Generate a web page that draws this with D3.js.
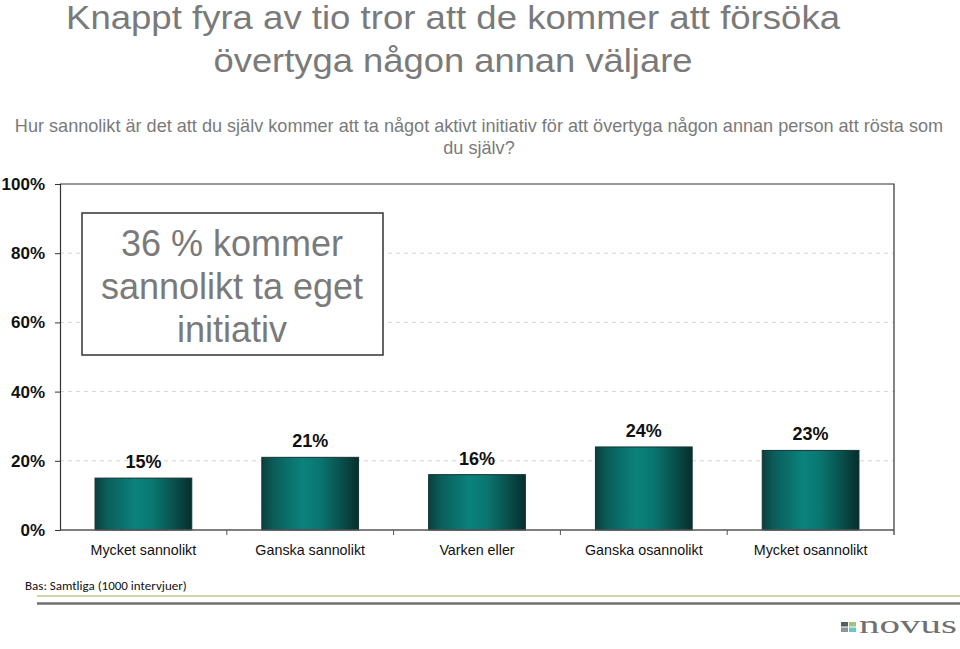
<!DOCTYPE html>
<html><head><meta charset="utf-8">
<script src="https://cdn.jsdelivr.net/npm/d3@7"></script>
<style>body{margin:0;background:#fff;}svg{display:block;font-family:"Liberation Sans",Arial,sans-serif;}</style>
</head><body>
<svg id="c" width="960" height="649"></svg>
<script>
const categories = ["Mycket sannolikt","Ganska sannolikt","Varken eller","Ganska osannolikt","Mycket osannolikt"];
const values = [15, 21, 16, 24, 23];
const yTicks = [0, 20, 40, 60, 80, 100];
const titleLines = ["Knappt fyra av tio tror att de kommer att försöka","övertyga någon annan väljare"];
const subtitleLines = ["Hur sannolikt är det att du själv kommer att ta något aktivt initiativ för att övertyga någon annan person att rösta som","du själv?"];
const boxLines = ["36 % kommer","sannolikt ta eget","initiativ"];
const baseNote = "Bas: Samtliga (1000 intervjuer)";

const svg = d3.select("#c");
const m = {l:60, r:894, t:184, b:530};
const x = d3.scaleBand().domain(categories).range([m.l, m.r]).paddingInner(0.42).paddingOuter(0.21);
const y = d3.scaleLinear().domain([0,100]).range([m.b, m.t]);

const defs = svg.append("defs");
const g = defs.append("linearGradient").attr("id","barg").attr("x1","0").attr("x2","1").attr("y1","0").attr("y2","0");
[[0,"#0a3f3d"],[0.12,"#0a5d5a"],[0.42,"#0b827c"],[0.6,"#0a7670"],[0.85,"#084a47"],[1,"#062e2c"]].forEach(s=>g.append("stop").attr("offset",s[0]).attr("stop-color",s[1]));

// titles
const titleWidths = [774, 479];
svg.append("g").selectAll("text").data(titleLines).join("text")
  .attr("x",453).attr("y",(d,i)=>29+i*43).attr("text-anchor","middle")
  .attr("font-size",33).attr("fill","#7a7a7a")
  .attr("textLength",(d,i)=>titleWidths[i]).attr("lengthAdjust","spacingAndGlyphs").text(d=>d);
svg.append("g").selectAll("text").data(subtitleLines).join("text")
  .attr("x",479).attr("y",(d,i)=>132+i*22).attr("text-anchor","middle")
  .attr("font-size",18.1).attr("fill","#7a7a7a").text(d=>d);

// gridlines
svg.append("g").selectAll("line").data(yTicks.filter(t=>t>0&&t<100)).join("line")
  .attr("x1",m.l).attr("x2",m.r).attr("y1",d=>y(d)).attr("y2",d=>y(d))
  .attr("stroke","#d4d4d4").attr("stroke-dasharray","4,4").attr("stroke-width",1);

// frame top and right
svg.append("path").attr("d",`M${m.l},${m.t}H${m.r}V${m.b+5}`).attr("fill","none").attr("stroke","#333").attr("stroke-width",1.2);

// y axis
const ya = svg.append("g").attr("transform",`translate(${m.l},0)`)
  .call(d3.axisLeft(y).tickValues(yTicks).tickFormat(d=>d+"%").tickSize(5).tickPadding(10));
ya.select(".domain").attr("stroke","#333").attr("stroke-width",1.2);
ya.selectAll(".tick line").attr("stroke","#333");
ya.selectAll(".tick text").attr("font-size",17).attr("font-weight","bold").attr("fill","#111")
  .attr("font-family","\"Liberation Sans\",Arial,sans-serif");

// bars
svg.append("g").selectAll("rect").data(values).join("rect")
  .attr("x",(d,i)=>x(categories[i])).attr("width",x.bandwidth())
  .attr("y",d=>y(d)).attr("height",d=>y(0)-y(d))
  .attr("fill","url(#barg)").attr("stroke","#123534").attr("stroke-width",1);

// x axis
svg.append("line").attr("x1",m.l).attr("x2",m.r).attr("y1",m.b).attr("y2",m.b).attr("stroke","#555").attr("stroke-width",1.5);
const gap = x.step() - x.bandwidth();
svg.append("g").selectAll("line").data(categories.slice(1)).join("line")
  .attr("x1",d=>x(d)-gap/2).attr("x2",d=>x(d)-gap/2)
  .attr("y1",m.b).attr("y2",m.b+5).attr("stroke","#555");
svg.append("g").selectAll("text").data(categories).join("text")
  .attr("x",d=>x(d)+x.bandwidth()/2).attr("y",555).attr("text-anchor","middle")
  .attr("font-size",14.3).attr("fill","#111").text(d=>d);

// value labels
svg.append("g").selectAll("text").data(values).join("text")
  .attr("x",(d,i)=>x(categories[i])+x.bandwidth()/2).attr("y",d=>y(d)-10)
  .attr("text-anchor","middle").attr("font-size",18).attr("font-weight","bold").attr("fill","#111")
  .text(d=>d+"%");

// annotation box
svg.append("rect").attr("x",82).attr("y",213).attr("width",301).attr("height",142)
  .attr("fill","#fff").attr("stroke","#333").attr("stroke-width",1.5);
svg.append("g").selectAll("text").data(boxLines).join("text")
  .attr("x",232).attr("y",(d,i)=>256+i*43).attr("text-anchor","middle")
  .attr("font-size",36).attr("fill","#7a7a7a").text(d=>d);

// base note
svg.append("text").attr("x",25).attr("y",590).attr("font-size",13).attr("fill","#111")
  .attr("font-family","Carlito,Calibri,\"Liberation Sans\",sans-serif").text(baseNote);
svg.append("line").attr("x1",37).attr("x2",960).attr("y1",596).attr("y2",596).attr("stroke","#b8cc8e").attr("stroke-width",1.5);
svg.append("line").attr("x1",37).attr("x2",960).attr("y1",603.5).attr("y2",603.5).attr("stroke","#6f6f6f").attr("stroke-width",2.5);

// logo
const sq = [[841,622,"#4f5f62"],[849,622,"#a3c07f"],[841,627.5,"#8a9697"],[849,627.5,"#6cc6c8"]];
svg.append("g").selectAll("rect").data(sq).join("rect")
  .attr("x",d=>d[0]).attr("y",d=>d[1]).attr("width",7).attr("height",4.5).attr("fill",d=>d[2]);
svg.append("text").attr("x",859).attr("y",633).attr("font-size",26).attr("fill","#707070")
  .attr("font-family","\"Liberation Serif\",\"DejaVu Serif\",serif").attr("textLength",98).attr("lengthAdjust","spacingAndGlyphs").text("novus");
</script>
</body></html>
